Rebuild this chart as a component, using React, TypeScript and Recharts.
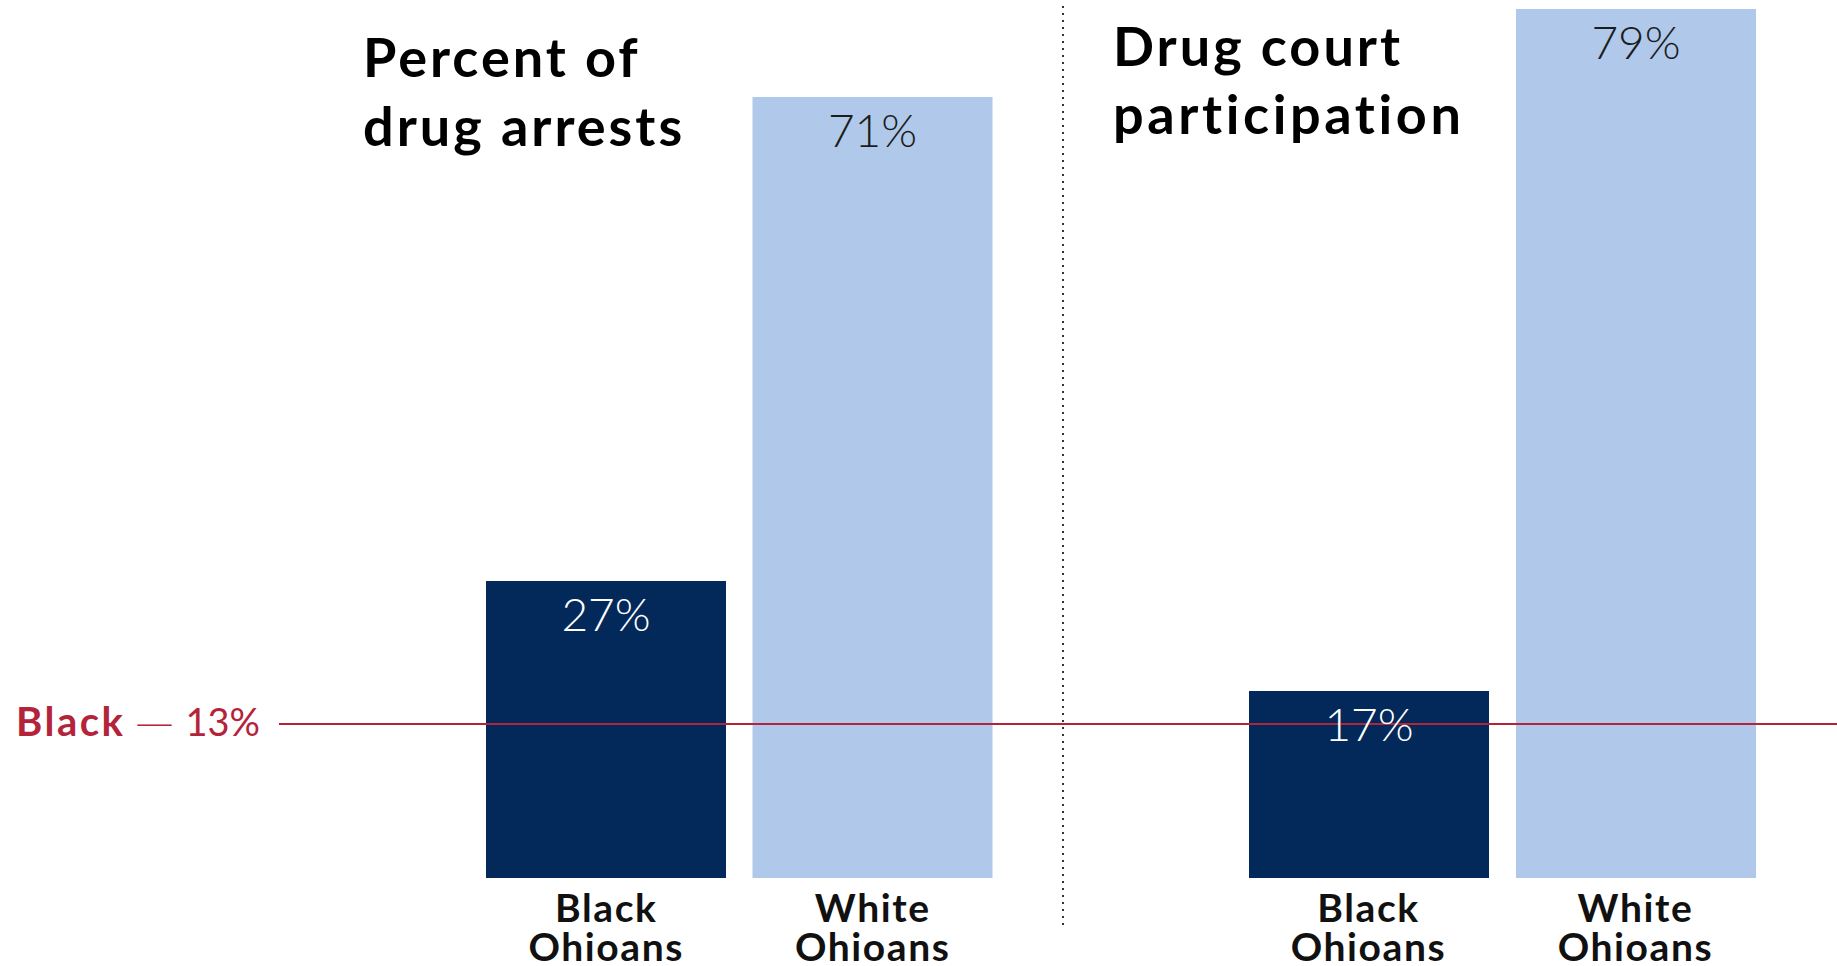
import React from 'react';
import { BarChart, Bar, XAxis, YAxis, Cell, LabelList, ReferenceLine } from 'recharts';

// ---- data ----
const categories = ['Black Ohioans', 'White Ohioans'];
const arrestShares = [27, 71];
const courtShares = [17, 79];
const blackPopulationLine = 14; // where the red reference line sits on the bar scale
const blackPopulationName = 'Black';
const blackPopulationValue = '13%';
const arrestTitle = ['Percent of', 'drug arrests'];
const courtTitle = ['Drug court', 'participation'];
const yDomain: [number, number] = [0, 79];

const barColors = ['#03285a', '#b0c8ea'];
const labelColors = ['#ffffff', '#1c1c1c'];
const RED = '#b3243a';
const FONT = 'Lato, "Open Sans", sans-serif';

const arrestData = categories.map((c, i) => ({ name: c, value: arrestShares[i] }));
const courtData = categories.map((c, i) => ({ name: c, value: courtShares[i] }));

const CategoryTick = (props: any) => {
  const { x, y, payload } = props;
  const words = String(payload.value).split(' ');
  const common = {
    x,
    textAnchor: 'middle' as const,
    fontFamily: FONT,
    fontWeight: 700,
    fontSize: 39,
    letterSpacing: 1.6,
    fill: '#111',
  };
  return (
    <g>
      <text {...common} y={y + 44}>{words[0]}</text>
      <text {...common} y={y + 83}>{words[1]}</text>
    </g>
  );
};

const ValueLabel = (props: any) => {
  const { x, y, width, value, index } = props;
  return (
    <text
      x={Number(x) + Number(width) / 2}
      y={Number(y) + 50}
      textAnchor="middle"
      fontFamily={FONT}
      fontWeight={300}
      fontSize={46}
      fill={labelColors[index ?? 0]}
    >
      {value}%
    </text>
  );
};

const RefLabel = (props: any) => {
  const vb = props.viewBox || {};
  return (
    <text x={vb.x - 19} y={vb.y + 12} textAnchor="end" fontFamily={FONT} fontSize={38} fill={RED}>
      <tspan fontWeight={700} fontSize={40} letterSpacing={2.5}>{blackPopulationName}</tspan>
      <tspan dx={10} fontFamily='"DejaVu Sans", sans-serif' fontWeight={300} fontSize={38}>—</tspan>
      <tspan dx={12}>{blackPopulationValue}</tspan>
    </text>
  );
};

const Panel = ({ data, width, marginLeft, padLeft, padRight, showRefLabel }: any) => (
  <BarChart
    width={width}
    height={966}
    data={data}
    margin={{ top: 9, right: 0, bottom: 0, left: marginLeft }}
    barCategoryGap={0}
  >
    <XAxis
      dataKey="name"
      axisLine={false}
      tickLine={false}
      tickSize={0}
      tickMargin={0}
      height={88}
      interval={0}
      padding={{ left: padLeft, right: padRight }}
      tick={<CategoryTick />}
    />
    <YAxis hide domain={yDomain} allowDataOverflow />
    <ReferenceLine
      y={blackPopulationLine}
      stroke={RED}
      strokeWidth={2}
      label={showRefLabel ? <RefLabel /> : undefined}
    />
    <Bar dataKey="value" barSize={240} isAnimationActive={false}>
      {data.map((_: any, i: number) => (
        <Cell key={i} fill={barColors[i]} />
      ))}
      <LabelList dataKey="value" content={<ValueLabel />} />
    </Bar>
  </BarChart>
);

export default function App() {
  const titleStyle = {
    fontFamily: FONT,
    fontWeight: 700,
    fontSize: 54,
    letterSpacing: 3,
    fill: '#000',
  };
  return (
    <div
      style={{
        position: 'absolute',
        left: 0,
        top: 0,
        width: 1837,
        height: 966,
        background: '#fff',
        overflow: 'hidden',
      }}
    >
      <div style={{ position: 'absolute', left: 0, top: 0 }}>
        <Panel data={arrestData} width={1063} marginLeft={279} padLeft={194} padRight={57} showRefLabel />
      </div>
      <div style={{ position: 'absolute', left: 1063, top: 0 }}>
        <Panel data={courtData} width={774} marginLeft={0} padLeft={172} padRight={68} showRefLabel={false} />
      </div>
      <svg
        width={1837}
        height={966}
        style={{ position: 'absolute', left: 0, top: 0, pointerEvents: 'none' }}
      >
        <line x1={1063} x2={1063} y1={6} y2={925} stroke="#333" strokeWidth={2} strokeDasharray="2 5" />
        <text {...titleStyle} x={363} y={77}>{arrestTitle[0]}</text>
        <text {...titleStyle} x={363} y={146}>{arrestTitle[1]}</text>
        <text {...titleStyle} x={1113} y={66}>{courtTitle[0]}</text>
        <text {...titleStyle} x={1113} y={134} letterSpacing={3.6}>{courtTitle[1]}</text>
      </svg>
    </div>
  );
}
